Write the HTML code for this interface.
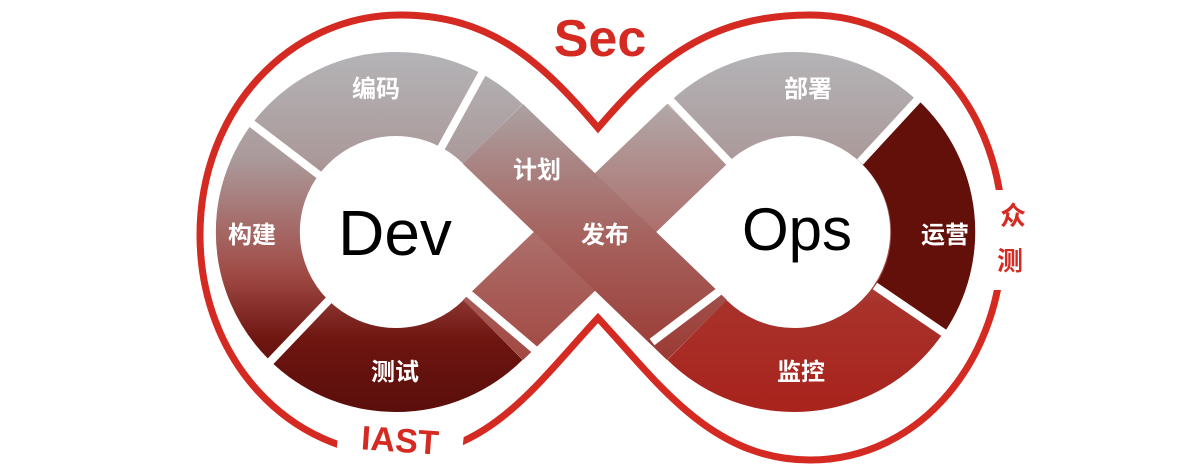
<!DOCTYPE html>
<html><head><meta charset="utf-8"><style>
html,body{margin:0;padding:0;background:#fff;width:1200px;height:474px;overflow:hidden}
text{font-family:"Liberation Sans","Noto Sans CJK SC",sans-serif}
</style></head><body>
<svg width="1200" height="474" viewBox="0 0 1200 474" xmlns="http://www.w3.org/2000/svg">
<defs>
<linearGradient id="g1" gradientUnits="userSpaceOnUse" x1="0" y1="50" x2="0" y2="412">
<stop offset="0" stop-color="#b4b4b7"/><stop offset="0.3" stop-color="#ab9a9b"/>
<stop offset="0.62" stop-color="#a04a45"/><stop offset="0.8" stop-color="#6e1510"/><stop offset="1" stop-color="#5a0e0b"/>
</linearGradient>
<linearGradient id="g2" gradientUnits="userSpaceOnUse" x1="0" y1="50" x2="0" y2="412">
<stop offset="0" stop-color="#b4b4b7"/><stop offset="0.3" stop-color="#ab9a9b"/>
<stop offset="0.7" stop-color="#a8322b"/><stop offset="1" stop-color="#a8231c"/>
</linearGradient>
<linearGradient id="gb" gradientUnits="userSpaceOnUse" x1="0" y1="100" x2="0" y2="365">
<stop offset="0" stop-color="#aca3a4"/><stop offset="0.5" stop-color="#a66460"/><stop offset="1" stop-color="#9b3832"/>
</linearGradient>
</defs>
<!-- outer red outline -->
<path d="M598,128 C540,60 490,15 400,15 C290,15 200,110 200,235 C200,360 290,455 400,455 C490,455 540,380 598,318 C656,380 710,460 810,460 C920,460 1003,360 1003,235 C1003,110 920,15 810,15 C710,15 656,60 598,128 Z" fill="none" stroke="#d42a22" stroke-width="7"/>
<rect x="338" y="418" width="125" height="45" fill="#fff" transform="rotate(6 400 440)"/>
<rect x="990" y="190" width="30" height="100" fill="#fff"/>
<!-- rings -->
<path d="M493,134 A138,138 0 1 0 493,330" fill="none" stroke="url(#g1)" stroke-width="84"/>
<path d="M697,134 A138,138 0 1 1 697,330" fill="none" stroke="url(#g2)" stroke-width="84"/>
<path d="M918,100 A180,180 0 0 1 944,333 L875,286 A96,96 0 0 0 860,162 Z" fill="#621009"/>
<!-- X bands -->
<polygon points="523,104 727,300 667,360 463,164" fill="url(#gb)"/>
<polygon points="463,300 667,104 727,164 523,360" fill="url(#gb)" opacity="0.93"/>
<!-- separators -->
<g stroke="#fff" stroke-width="8" stroke-linecap="butt">
<line x1="319" y1="175" x2="247" y2="120"/>
<line x1="329" y1="300" x2="266" y2="366"/>
<line x1="441" y1="148" x2="484" y2="70"/>
<line x1="468" y1="293" x2="535" y2="350"/>
<line x1="860" y1="162" x2="920" y2="97"/>
<line x1="875" y1="286" x2="947" y2="335"/>
<line x1="721" y1="290" x2="652" y2="342"/>
<line x1="730" y1="163" x2="670" y2="100"/>
</g>
<!-- labels -->
<g fill="#fff" font-weight="bold" font-size="24" text-anchor="middle">
<text x="376" y="97">编码</text>
<text x="252" y="243">构建</text>
<text x="395" y="380">测试</text>
<text x="537" y="178">计划</text>
<text x="605" y="243">发布</text>
<text x="808" y="97">部署</text>
<text x="945" y="243">运营</text>
<text x="801" y="380">监控</text>
</g>
<text x="395" y="255" font-size="64" text-anchor="middle" fill="#000">Dev</text>
<text x="797" y="250" font-size="60" text-anchor="middle" fill="#000">Ops</text>
<text x="600" y="56" font-size="52" font-weight="bold" text-anchor="middle" fill="#d42a22">Sec</text>
<text x="400" y="452" font-size="34" font-weight="bold" text-anchor="middle" fill="#d42a22" transform="rotate(4 400 440)">IAST</text>
<g fill="#d42a22" font-weight="bold" font-size="26" text-anchor="middle">
<text x="1013" y="225">众</text>
<text x="1010" y="270">测</text>
</g>
</svg>
</body></html>
